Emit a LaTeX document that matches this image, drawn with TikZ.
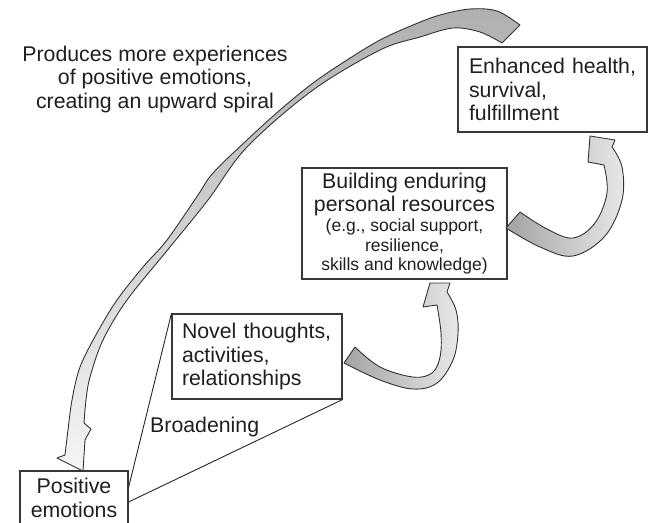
\documentclass[tikz,border=0pt]{standalone}
\usepackage{fontspec}
\setmainfont{Liberation Sans}
\usetikzlibrary{calc}
\newcommand{\smallf}{\fontsize{17.5}{19.5}\selectfont}
\begin{document}
\begin{tikzpicture}[x=1pt,y=-1pt,
  box/.style={draw=black!78, line width=1.1pt, inner sep=0pt, text=black!88,
    font=\fontsize{21.3}{23.5}\selectfont},
  plain/.style={inner sep=0pt, text=black!88, font=\fontsize{21.3}{23.5}\selectfont},
  band/.style={draw=black!80, line width=0.9pt, line join=round},
  conn/.style={draw=black!85, line width=0.9pt}
]
\useasboundingbox (0,0) rectangle (652,522);

% boxes
\node[box, minimum width=189pt, minimum height=85pt, text width=167pt, align=left]
  (health) at (552.5,89.5) {Enhanced health,\\survival,\\fulfillment};
\node[box, minimum width=205pt, minimum height=111pt, align=center]
  (res) at (404.5,223.5) {Building enduring\\personal resources\\[-3.5pt]{\smallf (e.g., social support,}\\[-4pt]{\smallf resilience,}\\[-4pt]{\smallf skills and knowledge)}};
\node[box, minimum width=170pt, minimum height=85pt, text width=150pt, align=left]
  (novel) at (257,356.5) {Novel thoughts,\\activities,\\relationships};
\node[box, minimum width=108pt, minimum height=54pt, align=center]
  (pos) at (74,498) {Positive\\emotions};

% texts
\node[plain, align=center] (spiral) at (155,79) {Produces more experiences\\of positive emotions,\\creating an upward spiral};
\node[plain, anchor=base west] (broad) at (150,432) {Broadening};

% broadening lines
\draw[conn] ($(pos.north east)+(0,17)$) -- (novel.north west);
\draw[conn] ($(pos.east)+(0,4)$) -- (novel.south east);

% big upward spiral arrow
\shadedraw[band, top color=gray!62, bottom color=gray!8]
  (520,25) -- plot[smooth, tension=0.55] coordinates {(520,25) (497,11) (470,9) (440,15) (413,25) (380,40) (347,60) (313,83) (280,110) (247,140) (213,173) (198,195) (167,240) (143,267) (117,300) (97,333) (80,367) (72,400) (68,430) (65,455)}
  -- (57,458) -- (83,471) -- (85,440) -- (91,429) --
  plot[smooth, tension=0.55] coordinates {(84,423) (86,400) (90,377) (103,340) (127,300) (170,247) (208,200) (247,147) (313,90) (380,50) (420,37) (453,28) (480,32) (502,43)}
  -- cycle;

% arrow novel -> resources
\shadedraw[band, left color=gray!72, right color=gray!18]
  (355,347) -- (344,363) -- plot[smooth, tension=0.6] coordinates {(344,363) (380,380) (413,389) (437,383) (453,360) (458,333) (456,310) (447,292)}
  -- (450,283) -- (430,283) -- (423,307) --
  plot[smooth, tension=0.6] coordinates {(437,305) (441,333) (440,357) (432,373) (413,377) (380,367) (355,347)}
  -- cycle;

% arrow resources -> health
\shadedraw[band, left color=gray!72, right color=gray!18]
  (520,212) -- (506,228) -- plot[smooth, tension=0.6] coordinates {(506,228) (540,247) (573,256) (605,236) (622,200) (622,167) (612,147)}
  -- (615,140) -- (590,136) -- (588,162) --
  plot[smooth, tension=0.6] coordinates {(604,165) (607,193) (595,223) (573,238) (547,229) (520,212)}
  -- cycle;
\end{tikzpicture}
\end{document}
